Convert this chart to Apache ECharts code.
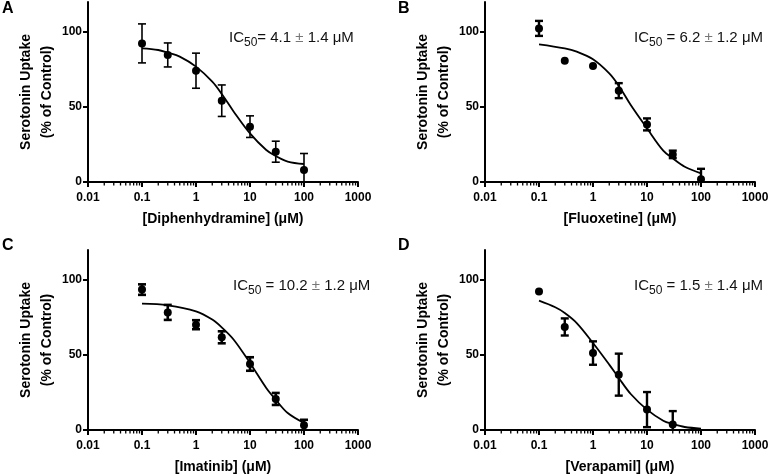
<!DOCTYPE html>
<html>
<head>
<meta charset="utf-8">
<script src="https://cdn.jsdelivr.net/npm/echarts@6/dist/echarts.min.js"></script>
<style>
html,body{margin:0;padding:0;background:#fff;}
#chart{width:772px;height:476px;}
</style>
</head>
<body>
<div id="chart"></div>
<script>
// ---------- data ----------
const xTickLabels = [0.01, 0.1, 1, 10, 100, 1000];
const yTickValues = [0, 50, 100];
const minorTickValues = [0.02,0.03,0.04,0.05,0.06,0.07,0.08,0.09,
  0.2,0.3,0.4,0.5,0.6,0.7,0.8,0.9,
  2,3,4,5,6,7,8,9,
  20,30,40,50,60,70,80,90,
  200,300,400,500,600,700,800,900];

const concX = [0.1, 0.3, 1, 3, 10, 30, 100];
const concXVer = [0.1, 0.3, 1, 3, 10, 30];

const dphMean = [92.4, 84.7, 74.2, 54.2, 36.9, 20.2, 8.0];
const dphErr  = [13, 8, 11.7, 10.5, 7.2, 7, 11];
const dphCurveX = [0.1, 0.2, 0.3, 0.5, 1, 2, 3, 5, 10, 20, 30, 50, 100];
const dphCurveY = [89.1, 88, 86.2, 83.6, 76.9, 66.9, 58.7, 46.9, 32.4, 21.3, 17.3, 13.6, 12];

const fluMean = [102.4, 80.9, 77.3, 60.9, 38.4, 18.4, 1.8];
const fluErr  = [5, 0, 0, 5, 4, 2.5, 7];
const fluCurveX = [0.1, 0.3, 0.5, 1, 2, 3, 5, 10, 20, 30, 50, 100];
const fluCurveY = [91.8, 89.1, 86.9, 81.8, 72.4, 64.2, 51.3, 35.8, 20.9, 15.8, 10.2, 5.8];

const imaMean = [93.6, 78.4, 70.2, 61.8, 44, 20.7, 3.1];
const imaErr  = [3.5, 5, 3, 4, 4.5, 4, 3.7];
const imaCurveX = [0.1, 0.3, 1, 2, 3, 5, 10, 20, 30, 50, 100];
const imaCurveY = [84.2, 83.1, 79.1, 73.6, 68.4, 60.2, 44.7, 28, 20.2, 11.3, 4.7];

const verMean = [92.4, 68.7, 51.3, 36.9, 13.6, 3.6];
const verErr  = [0, 5.7, 7.8, 14, 11.7, 9];
const verCurveX = [0.1, 0.2, 0.3, 0.5, 1, 2, 3, 5, 10, 20, 30, 50, 100];
const verCurveY = [86.2, 81.8, 78, 71.3, 58, 43.6, 34.7, 24, 13.6, 6.2, 4, 2, 0.9];

const panelLetters = ['A', 'B', 'C', 'D'];
const xNames = ['[Diphenhydramine] (\u03bcM)', '[Fluoxetine] (\u03bcM)', '[Imatinib] (\u03bcM)', '[Verapamil] (\u03bcM)'];
const yName = 'Serotonin Uptake\n(% of Control)';
const icTexts = [
  ['4.1', '1.4', '='],
  ['6.2', '1.2', ' ='],
  ['10.2', '1.2', ' ='],
  ['1.5', '1.4', ' =']
];

// ---------- layout ----------
const FONT = '"Liberation Sans", Arial, Helvetica, sans-serif';
const grids = [
  {left: 88, top: 2, width: 270, height: 180},
  {left: 485, top: 2, width: 270, height: 180},
  {left: 88, top: 250, width: 270, height: 180},
  {left: 485, top: 250, width: 270, height: 180}
];
const letterPos = [[2, 1], [398, 1], [2, 238], [398, 238]];
const icPos = [[229, 30], [634, 30], [233, 278], [634, 278]];
const barWidths = [1.6, 2.4, 2.6, 2.4];

const panelData = [
  {x: concX, mean: dphMean, err: dphErr, cx: dphCurveX, cy: dphCurveY},
  {x: concX, mean: fluMean, err: fluErr, cx: fluCurveX, cy: fluCurveY},
  {x: concX, mean: imaMean, err: imaErr, cx: imaCurveX, cy: imaCurveY},
  {x: concXVer, mean: verMean, err: verErr, cx: verCurveX, cy: verCurveY}
];

function fmt(v) { return String(parseFloat(Number(v).toPrecision(3))); }

const xAxes = [], yAxes = [], series = [], titles = [];
panelData.forEach(function (p, i) {
  xAxes.push({
    type: 'log', logBase: 10, min: 0.01, max: 1000, gridIndex: i,
    axisLine: {lineStyle: {color: '#000', width: 2}},
    axisTick: {show: true, length: 5, customValues: xTickLabels, lineStyle: {color: '#000', width: 2}},
    axisLabel: {customValues: xTickLabels, fontSize: 12, fontWeight: 'bold', color: '#000', fontFamily: FONT, margin: 10, formatter: fmt, showMinLabel: true, showMaxLabel: true, hideOverlap: false},
    splitLine: {show: false},
    name: xNames[i], nameLocation: 'middle', nameGap: 30,
    nameTextStyle: {fontSize: 14, fontWeight: 'bold', color: '#000', fontFamily: FONT}
  });
  yAxes.push({
    type: 'value', min: 0, max: 120, gridIndex: i,
    axisLine: {show: true, lineStyle: {color: '#000', width: 2}},
    axisTick: {show: true, length: 5, customValues: yTickValues, lineStyle: {color: '#000', width: 2}},
    axisLabel: {customValues: yTickValues, fontSize: 12, fontWeight: 'bold', color: '#000', fontFamily: FONT, margin: 6},
    splitLine: {show: false},
    name: yName, nameLocation: 'middle', nameGap: 27,
    nameTextStyle: {fontSize: 14, fontWeight: 'bold', color: '#000', fontFamily: FONT, lineHeight: 21, align: 'center'}
  });
  // minor ticks
  series.push({
    type: 'custom', xAxisIndex: i, yAxisIndex: i, silent: true, clip: false,
    data: minorTickValues.map(function (v) { return [v, 0]; }),
    renderItem: function (params, api) {
      const c = api.coord([api.value(0), 0]);
      return {type: 'line', shape: {x1: c[0], y1: c[1], x2: c[0], y2: c[1] + 3.5},
        style: {stroke: '#000', lineWidth: 1.3}};
    }
  });
  // fitted curve
  series.push({
    type: 'line', xAxisIndex: i, yAxisIndex: i, showSymbol: false, symbol: 'none',
    smooth: 0.35,
    lineStyle: {color: '#000', width: 1.8},
    data: p.cx.map(function (x, k) { return [x, p.cy[k]]; }),
    z: 2
  });
  // error bars
  const bw = barWidths[i];
  series.push({
    type: 'custom', xAxisIndex: i, yAxisIndex: i, silent: true, clip: true,
    encode: {x: 0, y: [1, 2]},
    data: p.x.map(function (x, k) { return [x, p.mean[k] - p.err[k], p.mean[k] + p.err[k]]; }),
    renderItem: function (params, api) {
      const x = api.value(0), lo = api.value(1), hi = api.value(2);
      if (hi - lo <= 0) return null;
      const t = api.coord([x, hi]), b = api.coord([x, lo]);
      const hw = 4;
      const st = {stroke: '#000', lineWidth: bw};
      return {type: 'group', children: [
        {type: 'line', shape: {x1: t[0], y1: t[1], x2: b[0], y2: b[1]}, style: st},
        {type: 'line', shape: {x1: t[0] - hw, y1: t[1], x2: t[0] + hw, y2: t[1]}, style: st},
        {type: 'line', shape: {x1: b[0] - hw, y1: b[1], x2: b[0] + hw, y2: b[1]}, style: st}
      ]};
    },
    z: 3
  });
  // points
  series.push({
    type: 'scatter', xAxisIndex: i, yAxisIndex: i, symbol: 'circle', symbolSize: 8,
    itemStyle: {color: '#000', opacity: 1},
    data: p.x.map(function (x, k) { return [x, p.mean[k]]; }),
    z: 4
  });
  titles.push({
    text: panelLetters[i], left: letterPos[i][0], top: letterPos[i][1], padding: 0,
    textStyle: {fontSize: 16, fontWeight: 'bold', color: '#000', fontFamily: FONT}
  });
  const t = icTexts[i];
  titles.push({
    text: '{n|IC}{s|50}{n|' + t[2] + ' ' + t[0] + ' }{pm|\u00b1}{n| ' + t[1] + ' \u03bcM}',
    left: icPos[i][0], top: icPos[i][1], padding: 0,
    textStyle: {
      fontFamily: FONT, color: '#111', fontWeight: 'normal', fontSize: 15,
      rich: {
        n: {fontSize: 15, lineHeight: 17, verticalAlign: 'top', color: '#111', fontWeight: 'normal', fontFamily: FONT},
        s: {fontSize: 12, lineHeight: 12, verticalAlign: 'top', padding: [7, 0, 0, 0], color: '#111', fontWeight: 'normal', fontFamily: FONT},
        pm: {fontSize: 15, lineHeight: 17, verticalAlign: 'top', color: '#777', fontWeight: 'normal', fontFamily: FONT}
      }
    }
  });
});

const chart = echarts.init(document.getElementById('chart'), null, {renderer: 'canvas'});
chart.setOption({
  animation: false,
  backgroundColor: '#fff',
  title: titles,
  grid: grids,
  xAxis: xAxes,
  yAxis: yAxes,
  series: series
});
</script>
</body>
</html>
